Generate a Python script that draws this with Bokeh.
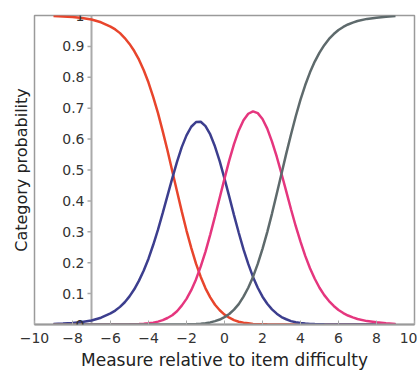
import numpy as np
from bokeh.plotting import figure
from bokeh.models import Span, Title, FixedTicker, ColumnDataSource, Label
from bokeh.embed import file_html
from bokeh.resources import INLINE

# Measure relative to item difficulty (x) and category probabilities
measure = [-9, -8.5, -8, -7.5, -7, -6.5,
           -6, -5.75, -5.5, -5.25, -5, -4.75, -4.5, -4.25, -4, -3.75,
           -3.5, -3.25, -3, -2.75, -2.5, -2.25, -2, -1.75, -1.5, -1.25,
           -1, -0.75, -0.5, -0.25, 0, 0.25, 0.5, 0.75, 1, 1.25,
           1.5, 1.75, 2, 2.25, 2.5, 2.75, 3, 3.25, 3.5, 3.75,
           4, 4.25, 4.5, 4.75, 5, 5.25, 5.5, 5.75, 6, 6.25,
           6.5, 6.75, 7, 7.5, 8, 8.5, 9]
cat0 = [0.998, 0.997, 0.995, 0.992, 0.987, 0.978,
        0.964, 0.955, 0.943, 0.927, 0.908, 0.885, 0.857, 0.823, 0.783, 0.736,
        0.684, 0.625, 0.563, 0.497, 0.431, 0.366, 0.304, 0.248, 0.197, 0.154,
        0.117, 0.088, 0.064, 0.046, 0.032, 0.022, 0.014, 0.009, 0.006, 0.004,
        0.002, 0.001, 0.001, 0.0005, 0.0003, 0.0001, 0, 0, 0, 0,
        0, 0, 0, 0, 0, 0, 0, 0, 0, 0,
        0, 0, 0, 0, 0, 0, 0]
cat1 = [0.002, 0.003, 0.005, 0.008, 0.013, 0.022,
        0.036, 0.045, 0.057, 0.072, 0.091, 0.114, 0.142, 0.175, 0.213, 0.258,
        0.307, 0.361, 0.417, 0.473, 0.526, 0.574, 0.612, 0.640, 0.655, 0.656,
        0.642, 0.615, 0.576, 0.528, 0.472, 0.414, 0.354, 0.297, 0.243, 0.196,
        0.154, 0.119, 0.090, 0.067, 0.049, 0.035, 0.024, 0.017, 0.011, 0.0075,
        0.005, 0.003, 0.002, 0.0013, 0.0008, 0.0005, 0.0003, 0.0002, 0.0001, 0,
        0, 0, 0, 0, 0, 0, 0]
cat2 = [0, 0, 0, 0, 0, 0,
        0.0001, 0.0001, 0.0002, 0.0004, 0.0006, 0.001, 0.0016, 0.0025, 0.0039, 0.0061,
        0.0093, 0.014, 0.021, 0.030, 0.043, 0.061, 0.083, 0.111, 0.146, 0.188,
        0.236, 0.291, 0.350, 0.411, 0.472, 0.531, 0.584, 0.628, 0.661, 0.682,
        0.690, 0.684, 0.665, 0.634, 0.592, 0.543, 0.488, 0.431, 0.373, 0.318,
        0.268, 0.222, 0.182, 0.148, 0.119, 0.095, 0.076, 0.060, 0.047, 0.037,
        0.029, 0.023, 0.018, 0.011, 0.007, 0.004, 0.002]
cat3 = [0, 0, 0, 0, 0, 0,
        0, 0, 0, 0, 0, 0, 0, 0, 0, 0,
        0, 0, 0.0001, 0.0001, 0.0002, 0.0003, 0.0006, 0.001, 0.0016, 0.0027,
        0.0043, 0.0068, 0.011, 0.016, 0.024, 0.034, 0.048, 0.066, 0.090, 0.119,
        0.154, 0.196, 0.245, 0.299, 0.359, 0.423, 0.488, 0.553, 0.615, 0.674,
        0.728, 0.775, 0.816, 0.851, 0.880, 0.904, 0.924, 0.940, 0.953, 0.963,
        0.971, 0.977, 0.982, 0.989, 0.993, 0.996, 0.998]

x_ticks = [-10, -8, -6, -4, -2, 0, 2, 4, 6, 8, 10]
x_tick_labels = ["\u221210", "\u22128", "\u22126", "\u22124", "\u22122", "0", "2", "4", "6", "8", "10"]
y_ticks = [0, 0.1, 0.2, 0.3, 0.4, 0.5, 0.6, 0.7, 0.8, 0.9, 1]
y_tick_labels = ["0", "0.1", "0.2", "0.3", "0.4", "0.5", "0.6", "0.7", "0.8", "0.9", "1"]

YAXIS_AT = -7
FONT = "DejaVu Sans"
colors = ["#e8452c", "#3c3e8e", "#e5367e", "#5e6a6c"]

p = figure(width=417, height=372, x_range=(-10, 10), y_range=(0, 1),
           output_backend="svg", toolbar_location=None, y_axis_location=None,
           min_border_left=34, min_border_right=3, min_border_top=15, min_border_bottom=45)
p.grid.visible = False
p.background_fill_color = "white"
p.border_fill_color = "white"
p.outline_line_color = "#9a9a9a"
p.outline_line_width = 1.5

ax = p.xaxis[0]
ax.ticker = FixedTicker(ticks=x_ticks)
ax.major_label_overrides = {t: l for t, l in zip(x_ticks, x_tick_labels)}
ax.major_tick_in = 4
ax.major_tick_out = 0
ax.major_tick_line_color = "#aaaaaa"
ax.minor_tick_line_color = None
ax.axis_line_color = "#9a9a9a"
ax.axis_line_width = 2
ax.major_label_text_font = FONT
ax.major_label_text_font_size = "14px"
ax.major_label_text_color = "#333333"
ax.major_label_standoff = 8
ax.axis_label = "Measure relative to item difficulty"
ax.axis_label_text_font = FONT
ax.axis_label_text_font_size = "17px"
ax.axis_label_text_font_style = "normal"
ax.axis_label_text_color = "#222222"
ax.axis_label_standoff = 4

t = Title(text="Category probability", align="center", text_font=FONT,
          text_font_size="16px", text_font_style="normal", text_color="#222222", standoff=7)
p.add_layout(t, "left")

# inner y axis
p.add_layout(Span(location=YAXIS_AT, dimension="height", line_color="#aaaaaa",
                  line_width=2, level="underlay"))
ysrc = ColumnDataSource(dict(x=[YAXIS_AT] * len(y_ticks), y=y_ticks))
p.ray(x="x", y="y", length=4, length_units="screen", angle=np.pi, source=ysrc,
      line_color="#aaaaaa", line_width=1.5)

for ys, c in zip([cat0, cat1, cat2, cat3], colors):
    p.line(measure, ys, line_color=c, line_width=2.5)

for yv, lab in zip(y_ticks, y_tick_labels):
    p.add_layout(Label(x=YAXIS_AT, y=yv, text=lab, x_offset=-7,
                       text_align="right", text_baseline="middle", text_font=FONT,
                       text_font_size="14px", text_color="#333333"))

open("out.html", "w").write(file_html(p, INLINE))
